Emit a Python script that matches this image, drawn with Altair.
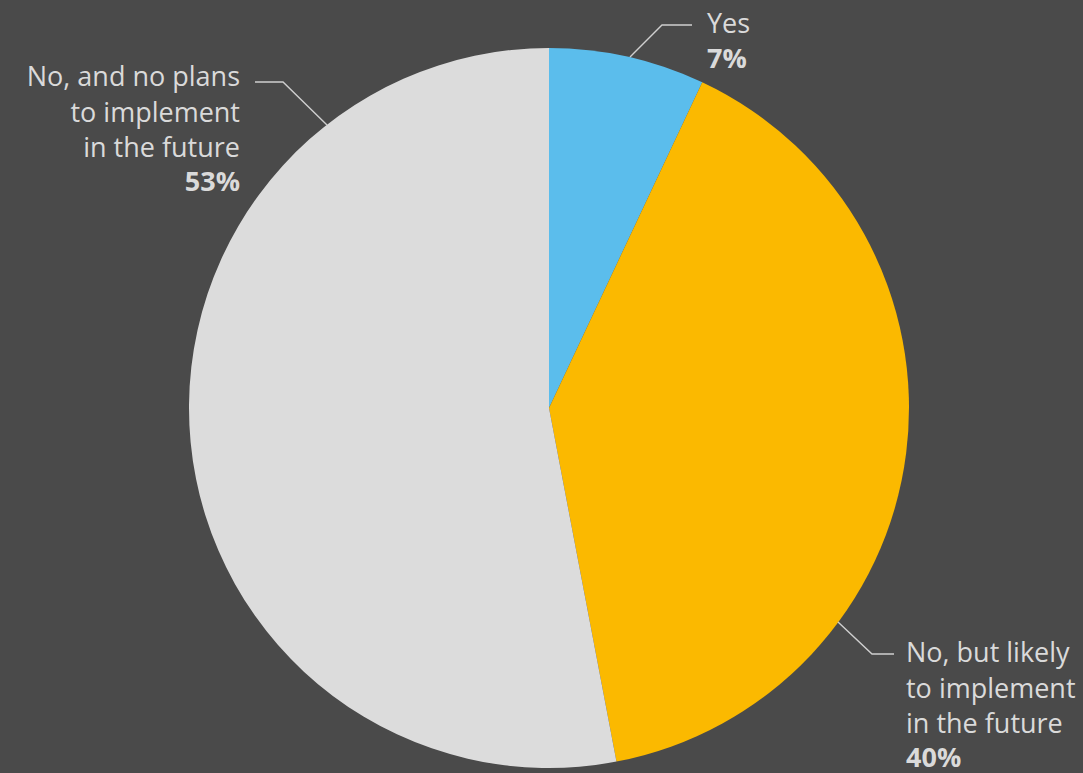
import altair as alt
import pandas as pd

# Data
categories = ["Yes", "No, but likely to implement in the future", "No, and no plans to implement in the future"]
shares = [7, 40, 53]
colors = ["#5bbdec", "#fbb900", "#dcdcdc"]

# label texts
label_lines = ["Yes", "No, but likely\nto implement\nin the future", "No, and no plans\nto implement\nin the future"]
pct_labels = ["7%", "40%", "53%"]

W, H = 1083, 773
CX, CY, R = 549, 408, 360
BG = "#4a4a4a"
TXT = "#dadada"
FONT = "Open Sans"

pie_df = pd.DataFrame({"cat": categories, "share": shares, "order": [0, 1, 2]})

pie = alt.Chart(pie_df).mark_arc(radius=R, stroke=None).encode(
    theta=alt.Theta("share:Q", stack=True),
    order=alt.Order("order:Q"),
    color=alt.Color("cat:N", scale=alt.Scale(domain=categories, range=colors), legend=None),
    x=alt.value(CX),
    y=alt.value(CY),
)

# leader lines (annotation geometry)
leader = pd.DataFrame({
    "grp": ["a"] * 3 + ["b"] * 3 + ["c"] * 3,
    "i": [0, 1, 2] * 3,
    "px": [630, 662, 692, 838, 872, 894, 327, 283, 255],
    "py": [57, 25, 25, 622, 654, 654, 125, 82, 82],
})
lines = alt.Chart(leader).mark_line(color="#cfcfcf", strokeWidth=1.4).encode(
    x=alt.X("px:Q", scale=None),
    y=alt.Y("py:Q", scale=None),
    detail="grp:N",
    order="i:Q",
)

lab_df = pd.DataFrame({
    "txt": label_lines,
    "pct": pct_labels,
    "lx": [707, 906, 240],
    "ly": [33, 662, 86],
    "py": [68, 767, 191],
    "al": ["left", "left", "right"],
})

texts = []
for _, r in lab_df.iterrows():
    d = pd.DataFrame([r])
    t = alt.Chart(d).mark_text(
        align=r["al"], baseline="alphabetic", font=FONT, fontSize=27,
        color=TXT, lineBreak="\n", lineHeight=35.5,
    ).encode(x=alt.X("lx:Q", scale=None), y=alt.Y("ly:Q", scale=None), text="txt:N")
    p = alt.Chart(d).mark_text(
        align=r["al"], baseline="alphabetic", font=FONT, fontSize=27, fontWeight="bold",
        color=TXT,
    ).encode(x=alt.X("lx:Q", scale=None), y=alt.Y("py:Q", scale=None), text="pct:N")
    texts += [t, p]

chart = alt.layer(pie, lines, *texts).properties(
    width=W, height=H, padding=0, autosize=alt.AutoSizeParams(type="none"),
    background=BG,
).configure_view(stroke=None)

chart.save("out.html", embed_options={"renderer": "svg", "actions": False})
